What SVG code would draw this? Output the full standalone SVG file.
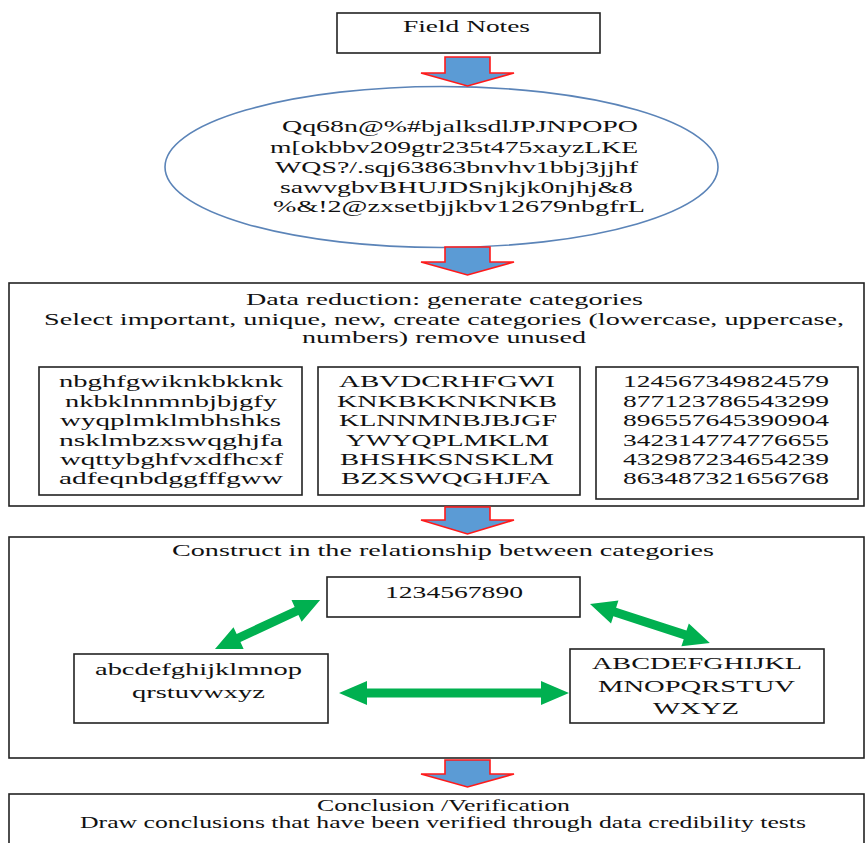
<svg xmlns="http://www.w3.org/2000/svg" width="868" height="843" viewBox="0 0 868 843">
<style>
.bx{fill:#fff;stroke:#222;stroke-width:1.6}
.t{font-family:"Liberation Serif","Times New Roman",serif;font-size:16px;fill:#111}
.t16{font-family:"Liberation Serif","Times New Roman",serif;font-size:17px;fill:#111}
.blk{fill:#5b9bd5;stroke:#ff1a1a;stroke-width:1.6;stroke-linejoin:miter}
.grn{fill:#00b050;stroke:none}
</style>
<rect width="868" height="843" fill="#fff"/>

<g id="field-notes">
<rect class="bx" x="337" y="13" width="263" height="40"/>
<text class="t" x="403" y="32" textLength="127" lengthAdjust="spacingAndGlyphs">Field Notes</text>
</g>

<g id="raw-data">
<ellipse cx="441.5" cy="167" rx="276.5" ry="80.5" fill="#fff" stroke="#5b84b8" stroke-width="1.6"/>
<text class="t" x="282" y="132" textLength="356" lengthAdjust="spacingAndGlyphs">Qq68n@%#bjalksdlJPJNPOPO</text>
<text class="t" x="270" y="153" textLength="368" lengthAdjust="spacingAndGlyphs">m[okbbv209gtr235t475xayzLKE</text>
<text class="t" x="275" y="173" textLength="363" lengthAdjust="spacingAndGlyphs">WQS?/.sqj63863bnvhv1bbj3jjhf</text>
<text class="t" x="280" y="193" textLength="353" lengthAdjust="spacingAndGlyphs">sawvgbvBHUJDSnjkjk0njhj&amp;8</text>
<text class="t" x="273" y="212" textLength="372" lengthAdjust="spacingAndGlyphs">%&amp;!2@zxsetbjjkbv12679nbgfrL</text>
</g>

<g id="data-reduction">
<rect class="bx" x="9" y="283" width="855" height="223"/>
<text class="t" x="246" y="305" textLength="397" lengthAdjust="spacingAndGlyphs">Data reduction: generate categories</text>
<text class="t" x="44" y="325" textLength="800" lengthAdjust="spacingAndGlyphs">Select important, unique, new, create categories (lowercase, uppercase,</text>
<text class="t" x="302" y="343" textLength="284" lengthAdjust="spacingAndGlyphs">numbers) remove unused</text>
</g>

<g id="lowercase-category">
<rect class="bx" x="39" y="367" width="263" height="128"/>
<text class="t" x="59" y="387" textLength="224" lengthAdjust="spacingAndGlyphs">nbghfgwiknkbkknk</text>
<text class="t" x="65" y="406.5" textLength="212" lengthAdjust="spacingAndGlyphs">nkbklnnmnbjbjgfy</text>
<text class="t" x="60" y="426" textLength="221" lengthAdjust="spacingAndGlyphs">wyqplmklmbhshks</text>
<text class="t" x="59" y="445.5" textLength="224" lengthAdjust="spacingAndGlyphs">nsklmbzxswqghjfa</text>
<text class="t" x="60" y="465" textLength="223" lengthAdjust="spacingAndGlyphs">wqttybghfvxdfhcxf</text>
<text class="t" x="59" y="484" textLength="224" lengthAdjust="spacingAndGlyphs">adfeqnbdggfffgww</text>
</g>

<g id="uppercase-category">
<rect class="bx" x="318" y="367" width="262" height="128"/>
<text class="t" x="339" y="387" textLength="216" lengthAdjust="spacingAndGlyphs">ABVDCRHFGWI</text>
<text class="t" x="337" y="406.5" textLength="220" lengthAdjust="spacingAndGlyphs">KNKBKKNKNKB</text>
<text class="t" x="339" y="426" textLength="218" lengthAdjust="spacingAndGlyphs">KLNNMNBJBJGF</text>
<text class="t" x="346" y="445.5" textLength="203" lengthAdjust="spacingAndGlyphs">YWYQPLMKLM</text>
<text class="t" x="340" y="465" textLength="214" lengthAdjust="spacingAndGlyphs">BHSHKSNSKLM</text>
<text class="t" x="341" y="484" textLength="209" lengthAdjust="spacingAndGlyphs">BZXSWQGHJFA</text>
</g>

<g id="number-category">
<rect class="bx" x="596" y="367" width="262" height="132"/>
<text class="t" x="623" y="387" textLength="206" lengthAdjust="spacingAndGlyphs">124567349824579</text>
<text class="t" x="623" y="406.5" textLength="206" lengthAdjust="spacingAndGlyphs">877123786543299</text>
<text class="t" x="623" y="426" textLength="206" lengthAdjust="spacingAndGlyphs">896557645390904</text>
<text class="t" x="623" y="445.5" textLength="206" lengthAdjust="spacingAndGlyphs">342314774776655</text>
<text class="t" x="623" y="465" textLength="206" lengthAdjust="spacingAndGlyphs">432987234654239</text>
<text class="t" x="623" y="484" textLength="206" lengthAdjust="spacingAndGlyphs">863487321656768</text>
</g>

<g id="relationship">
<rect class="bx" x="9" y="537" width="855" height="221"/>
<text class="t16" x="172" y="556" textLength="542" lengthAdjust="spacingAndGlyphs">Construct in the relationship between categories</text>
</g>

<g id="numbers-node">
<rect class="bx" x="327" y="577" width="253" height="40"/>
<text class="t16" x="385" y="598" textLength="138" lengthAdjust="spacingAndGlyphs">1234567890</text>
</g>

<g id="lowercase-node">
<rect class="bx" x="74" y="654" width="254" height="69"/>
<text class="t16" x="95" y="675" textLength="207" lengthAdjust="spacingAndGlyphs">abcdefghijklmnop</text>
<text class="t16" x="132" y="698" textLength="133" lengthAdjust="spacingAndGlyphs">qrstuvwxyz</text>
</g>

<g id="uppercase-node">
<rect class="bx" x="570" y="649" width="254" height="74"/>
<text class="t16" x="592" y="669" textLength="210" lengthAdjust="spacingAndGlyphs">ABCDEFGHIJKL</text>
<text class="t16" x="598" y="692" textLength="197" lengthAdjust="spacingAndGlyphs">MNOPQRSTUV</text>
<text class="t16" x="653" y="714" textLength="86" lengthAdjust="spacingAndGlyphs">WXYZ</text>
</g>

<g id="conclusion">
<rect class="bx" x="9" y="794" width="855" height="60"/>
<text class="t" x="317" y="811" textLength="253" lengthAdjust="spacingAndGlyphs">Conclusion /Verification</text>
<text class="t" x="80" y="828" textLength="726" lengthAdjust="spacingAndGlyphs">Draw conclusions that have been verified through data credibility tests</text>
</g>

<g id="connectors">
<polygon class="blk" points="445,57 490,57 490,73 514,73 467.5,86 421,73 445,73"/>
<polygon class="blk" points="445,247 490,247 490,262 514,262 467.5,275 421,262 445,262"/>
<polygon class="blk" points="445,507 490,507 490,520 514,520 467.5,534 421,520 445,520"/>
<polygon class="blk" points="445,760 490,760 490,774 514,774 467.5,787 421,774 445,774"/>
<polygon class="grn" transform="translate(215,649) rotate(-25)" points="0,0 26,-12 26,-4.5 90,-4.5 90,-12 116,0 90,12 90,4.5 26,4.5 26,12"/>
<polygon class="grn" transform="translate(590,604) rotate(18)" points="0,0 26,-12 26,-4.5 100,-4.5 100,-12 126,0 100,12 100,4.5 26,4.5 26,12"/>
<polygon class="grn" transform="translate(339,693)" points="0,0 28,-12 28,-4.5 202,-4.5 202,-12 230,0 202,12 202,4.5 28,4.5 28,12"/>
</g>
</svg>
